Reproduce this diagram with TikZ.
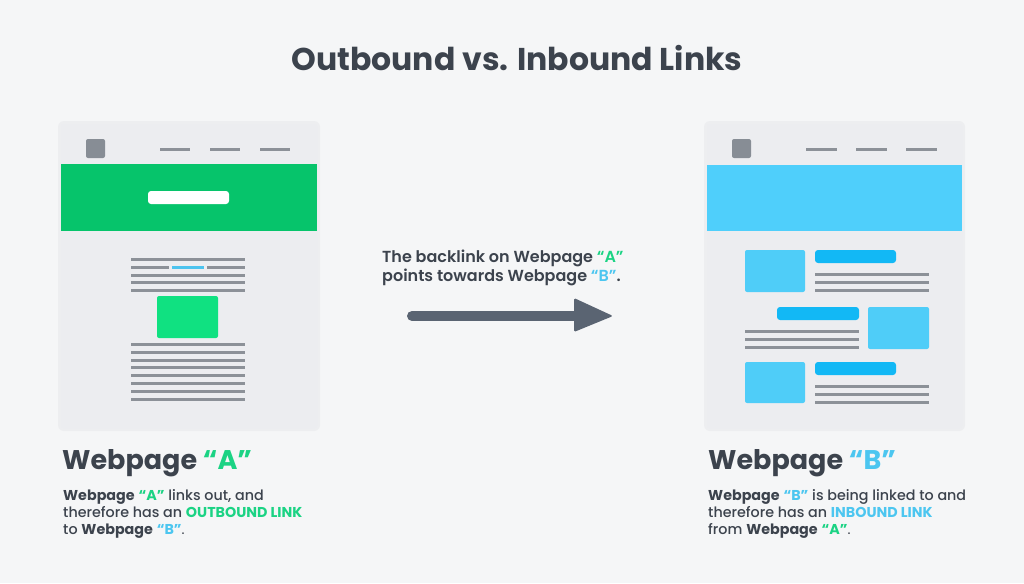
\documentclass[tikz,border=0pt]{standalone}
\usepackage{fontspec}
\setmainfont{Poppins}
\newfontfamily\pmed{Poppins Medium}
\newfontfamily\psemi{Poppins SemiBold}
\definecolor{bg}{HTML}{F5F6F7}
\definecolor{pagefill}{HTML}{ECEDF0}
\definecolor{shadowc}{HTML}{E6E7EA}
\definecolor{ink}{HTML}{3C434D}
\definecolor{lineg}{HTML}{8C9198}
\definecolor{logoc}{HTML}{878D95}
\definecolor{bandgreen}{HTML}{06C46B}
\definecolor{boxgreen}{HTML}{10E181}
\definecolor{bandblue}{HTML}{4FCFFB}
\definecolor{boxblue}{HTML}{4FCDF8}
\definecolor{barblue}{HTML}{12B8F5}
\definecolor{linkblue}{HTML}{4CC3EE}
\definecolor{tgreen}{HTML}{1BD384}
\definecolor{tblue}{HTML}{4CC6F0}
\definecolor{arrowc}{HTML}{5A6472}
\tikzset{
  pagebox/.style={fill=pagefill, rounded corners=3pt},
  shadowbox/.style={fill=shadowc, rounded corners=6pt, opacity=0.5},
  logo/.style={fill=logoc, rounded corners=2pt},
  nav/.style={draw=lineg, line width=3pt},
  tline/.style={draw=lineg, line width=3pt},
  txt/.style={inner sep=0pt, anchor=base west, text=ink},
}
\newcommand{\ga}{\textcolor{tgreen}{“A”}}
\newcommand{\gb}{\textcolor{tblue}{“B”}}
\begin{document}
\begin{tikzpicture}[x=1pt,y=-1pt]
\fill[bg] (0,0) rectangle (1024,583);
\useasboundingbox (0,0) rectangle (1024,583);

% title
\node[inner sep=0pt, anchor=base, text=ink] (title) at (517,71)
  {\fontsize{31.5}{36}\selectfont\bfseries Outbound vs. Inbound Links};

% ---------- Page A ----------
\fill[shadowbox] (58,121) rectangle (320,431);
\path[pagebox] (61,124) rectangle (317,428);
\node[inner sep=0pt] (pageA) at (189,276) {};
\fill[logo] (86,139) rectangle (105,158);
\draw[nav] (160,149) -- (190,149);
\draw[nav] (210,149) -- (240,149);
\draw[nav] (260,149) -- (290,149);
\fill[bandgreen] (61,164) rectangle (317,231);
\fill[white, rounded corners=3pt] (148,191) rectangle (229,204);
\foreach \y in {259,275,282,290} \draw[tline] (131,\y) -- (245,\y);
\draw[tline] (131,267) -- (169,267);
\draw[tline] (207,267) -- (245,267);
\draw[draw=linkblue, line width=3pt] (172,267) -- (204,267);
\fill[boxgreen, rounded corners=2pt] (157,296) rectangle (218,338);
\foreach \y in {344,352,360,367,375,383,391,399} \draw[tline] (131,\y) -- (245,\y);

% ---------- Page B ----------
\fill[shadowbox] (704,121) rectangle (965,431);
\path[pagebox] (707,124) rectangle (962,428);
\node[inner sep=0pt] (pageB) at (834,276) {};
\fill[logo] (732,139) rectangle (751,158);
\draw[nav] (806,149) -- (837,149);
\draw[nav] (856,149) -- (887,149);
\draw[nav] (906,149) -- (937,149);
\fill[bandblue] (707,165) rectangle (962,231);
% row 1
\fill[boxblue, rounded corners=2pt] (745,250) rectangle (805,292);
\fill[barblue, rounded corners=3pt] (815,250) rectangle (896,263);
\foreach \y in {274,282,290} \draw[tline] (815,\y) -- (929,\y);
% row 2
\fill[barblue, rounded corners=3pt] (777,307) rectangle (859,320);
\foreach \y in {331,339,347} \draw[tline] (745,\y) -- (859,\y);
\fill[boxblue, rounded corners=2pt] (868,307) rectangle (929,349);
% row 3
\fill[boxblue, rounded corners=2pt] (745,362) rectangle (805,403);
\fill[barblue, rounded corners=3pt] (815,362) rectangle (896,375);
\foreach \y in {386,394,402} \draw[tline] (815,\y) -- (929,\y);

% ---------- middle ----------
\node[txt] (mid1) at (382,262) {\fontsize{16}{18}\selectfont\psemi The backlink on Webpage \ga};
\node[txt] (mid2) at (382,281) {\fontsize{16}{18}\selectfont\psemi points towards Webpage \gb.};
\coordinate (arrS) at (412,316);
\coordinate (arrE) at (613,316);
\draw[arrowc, line width=10pt, line cap=round] (arrS) -- (580,316);
\fill[arrowc, rounded corners=1.5pt] (574,298) -- (arrE) -- (574,332) -- cycle;

% ---------- captions ----------
\node[txt] (headA) at (62,469) {\fontsize{27}{30}\selectfont\textbf{Webpage \ga}};
\node[txt] (bodyA1) at (63,500) {\fontsize{14.3}{17}\selectfont\textbf{Webpage} \textbf{\ga} {\pmed links out, and}};
\node[txt] (bodyA2) at (63,517) {\fontsize{14.3}{17}\selectfont{\pmed therefore has an} \textcolor{tgreen}{\textbf{OUTBOUND LINK}}};
\node[txt] (bodyA3) at (63,534) {\fontsize{14.3}{17}\selectfont{\pmed to} \textbf{Webpage} \textbf{\gb}.};

\node[txt] (headB) at (708,469) {\fontsize{27}{30}\selectfont\textbf{Webpage \gb}};
\node[txt] (bodyB1) at (708,500) {\fontsize{14.3}{17}\selectfont\textbf{Webpage} \textbf{\gb} {\pmed is being linked to and}};
\node[txt] (bodyB2) at (708,517) {\fontsize{14.3}{17}\selectfont{\pmed therefore has an} \textcolor{tblue}{\textbf{INBOUND LINK}}};
\node[txt] (bodyB3) at (708,534) {\fontsize{14.3}{17}\selectfont{\pmed from} \textbf{Webpage} \textbf{\ga}.};
\end{tikzpicture}
\end{document}
